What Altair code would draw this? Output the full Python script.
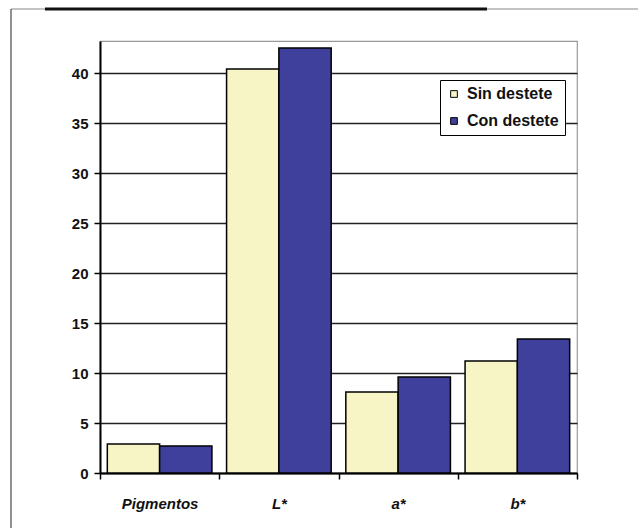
import altair as alt
import pandas as pd

categories = ["Pigmentos", "L*", "a*", "b*"]
series = ["Sin destete", "Con destete"]
sin_destete = [2.9, 40.4, 8.1, 11.2]
con_destete = [2.7, 42.5, 9.6, 13.4]
y_ticks = [0, 5, 10, 15, 20, 25, 30, 35, 40]

rows = []
for c, a, b in zip(categories, sin_destete, con_destete):
    rows.append({"cat": c, "serie": series[0], "valor": a})
    rows.append({"cat": c, "serie": series[1], "valor": b})
df = pd.DataFrame(rows)

FONT = "Liberation Sans"

bars = alt.Chart(df).mark_bar(stroke="black", strokeWidth=1.5).encode(
    x=alt.X("cat:N", sort=categories, title=None,
            scale=alt.Scale(paddingInner=0, paddingOuter=0),
            axis=alt.Axis(labelAngle=0, tickBand="extent", domainColor="black",
                          domainWidth=2, tickColor="black", tickWidth=1.5, tickSize=6,
                          labelFont=FONT, labelFontSize=15, labelFontWeight="bold",
                          labelFontStyle="italic", labelColor="#111", labelPadding=17)),
    xOffset=alt.XOffset("serie:N", sort=series,
                        scale=alt.Scale(paddingOuter=0.14, paddingInner=0)),
    y=alt.Y("valor:Q", title=None,
            scale=alt.Scale(domain=[0, 43.2], nice=False, zero=True),
            axis=alt.Axis(values=y_ticks, grid=True, gridColor="#222", gridWidth=1.4,
                          domainColor="black", domainWidth=2, tickColor="black",
                          tickWidth=1.5, tickSize=6, labelFont=FONT, labelFontSize=15,
                          labelFontWeight="bold", labelColor="#111", labelPadding=6)),
    color=alt.Color("serie:N", sort=series,
                    scale=alt.Scale(domain=series, range=["#F7F5C6", "#3F3F9C"]),
                    legend=alt.Legend(title=None, orient="none", legendX=340, legendY=39,
                                      strokeColor="black", padding=6, fillColor="white",
                                      symbolType="square", symbolSize=45,
                                      symbolStrokeColor="black", symbolStrokeWidth=1,
                                      labelFont=FONT, labelFontSize=16,
                                      labelFontWeight="bold", labelColor="#111",
                                      rowPadding=11, labelOffset=5)),
)

deco_top_gray = alt.Chart(pd.DataFrame({"k": [0]})).mark_rule(color="#888", strokeWidth=1).encode(
    x=alt.value(-89), x2=alt.value(538), y=alt.value(-32))
deco_top_black = alt.Chart(pd.DataFrame({"k": [0]})).mark_rule(color="#111", strokeWidth=3).encode(
    x=alt.value(-55), x2=alt.value(387), y=alt.value(-32))
deco_left = alt.Chart(pd.DataFrame({"k": [0]})).mark_rule(color="#555", strokeWidth=1.3).encode(
    x=alt.value(-89), y=alt.value(-32), y2=alt.value(487))

chart = alt.layer(bars, deco_top_gray, deco_top_black, deco_left).properties(
    width=477, height=432,
    autosize=alt.AutoSizeParams(type="none"),
    padding={"left": 100, "top": 41, "right": 61, "bottom": 55},
    background="white",
).configure_view(stroke="#999", strokeWidth=1.2)

chart.save("out.html", embed_options={"renderer": "svg", "actions": False})
